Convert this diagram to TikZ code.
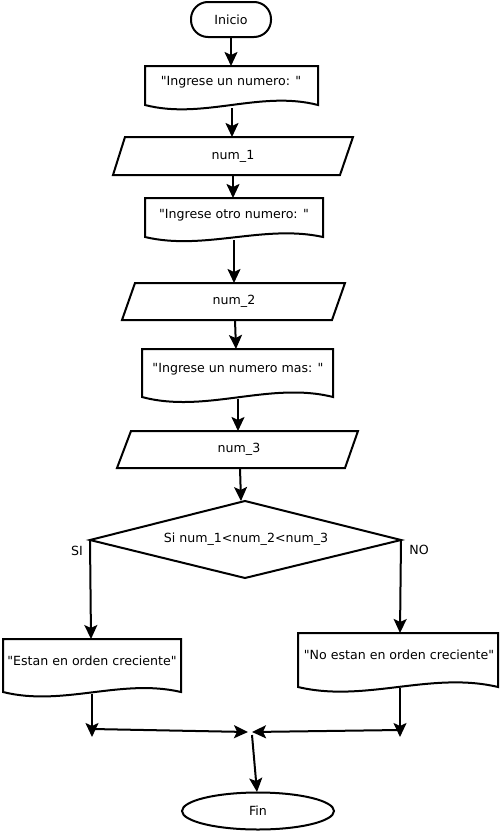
\documentclass[tikz,border=0pt]{standalone}
\usepackage{fontspec}
\setmainfont{DejaVu Sans}[Ligatures=TeXOff]
\usetikzlibrary{arrows.meta}
\begin{document}
\begin{tikzpicture}[x=1pt,y=-1pt,
  outline/.style={line width=2pt, line join=miter},
  flow/.style={line width=2pt, -{Stealth[length=14pt,width=13pt,inset=3pt]}},
  lbl/.style={font=\fontsize{12.6}{14}\selectfont, inner sep=0pt}]
\useasboundingbox (0,0) rectangle (501,833);

% start terminal
\draw[outline, rounded corners=17pt] (191,2) rectangle (271,37);
\node[lbl] (inicio) at (231,19.5) {Inicio};
\coordinate (inicio-s) at (231,37);

% output: first prompt
\draw[outline] (145,105) -- (145,66) -- (318,66) -- (318,105)
  .. controls (260,90) and (203,120) .. (145,105) -- cycle;
\node[lbl] (doc1) at (231,82) {"Ingrese un numero: "};
\coordinate (doc1-n) at (231,66);
\coordinate (doc1-s) at (232,108);

% input num_1
\draw[outline] (125,137) -- (353,137) -- (340,175) -- (113,175) -- cycle;
\node[lbl] (in1) at (233,156) {num\_1};
\coordinate (in1-n) at (232,137);
\coordinate (in1-s) at (233,175);

% output: second prompt
\draw[outline] (145,237) -- (145,198) -- (323,198) -- (323,237)
  .. controls (264,224) and (204,251) .. (145,237) -- cycle;
\node[lbl] (doc2) at (234,215) {"Ingrese otro numero: "};
\coordinate (doc2-n) at (233,198);
\coordinate (doc2-s) at (234,240);

% input num_2
\draw[outline] (135,283) -- (345,283) -- (332,320) -- (122,320) -- cycle;
\node[lbl] (in2) at (234,301) {num\_2};
\coordinate (in2-n) at (234,283);
\coordinate (in2-s) at (235,320);

% output: third prompt
\draw[outline] (142,397) -- (142,349) -- (333,349) -- (333,397)
  .. controls (270,381) and (205,414) .. (142,397) -- cycle;
\node[lbl] (doc3) at (238,369) {"Ingrese un numero mas: "};
\coordinate (doc3-n) at (236,349);
\coordinate (doc3-s) at (238,399);

% input num_3
\draw[outline] (131,431) -- (358,431) -- (345,468) -- (117,468) -- cycle;
\node[lbl] (in3) at (239,449) {num\_3};
\coordinate (in3-n) at (238,431);
\coordinate (in3-s) at (240,468);

% decision
\draw[outline] (245,501) -- (401,540) -- (245,578) -- (90,540) -- cycle;
\node[lbl] (dec) at (246,539) {Si num\_1<num\_2<num\_3};
\coordinate (dec-n) at (241,501);
\coordinate (dec-w) at (90,540);
\coordinate (dec-e) at (401,540);
\node[lbl] (si) at (77,551) {SI};
\node[lbl] (no) at (419,550) {NO};

% output: ascending
\draw[outline] (3,692) -- (3,639) -- (181,639) -- (181,692)
  .. controls (121,678) and (63,707) .. (3,692) -- cycle;
\node[lbl] (docsi) at (92,661) {"Estan en orden creciente"};
\coordinate (docsi-n) at (91,639);
\coordinate (docsi-s) at (92,694);

% output: not ascending
\draw[outline] (298,687) -- (298,633) -- (498,633) -- (498,687)
  .. controls (431,671) and (365,703) .. (298,687) -- cycle;
\node[lbl] (docno) at (399,655) {"No estan en orden creciente"};
\coordinate (docno-n) at (400,633);
\coordinate (docno-s) at (400,688);

% joins
\coordinate (jl) at (92,737);
\coordinate (jr) at (400,737);
\coordinate (jlh) at (92,729);
\coordinate (jrh) at (400,730);
\coordinate (ml) at (248,732);
\coordinate (mr) at (252,732);
\coordinate (m) at (252,735);

% end terminal
\draw[outline] (258,811) ellipse [x radius=76, y radius=18.5];
\node[lbl] (fin) at (258,811) {Fin};
\coordinate (fin-n) at (257,792);

% connectors
\draw[flow] (inicio-s) -- (doc1-n);
\draw[flow] (doc1-s) -- (in1-n);
\draw[flow] (in1-s) -- (doc2-n);
\draw[flow] (doc2-s) -- (in2-n);
\draw[flow] (in2-s) -- (doc3-n);
\draw[flow] (doc3-s) -- (in3-n);
\draw[flow] (in3-s) -- (dec-n);
\draw[flow] (dec-w) -- (docsi-n);
\draw[flow] (dec-e) -- (docno-n);
\draw[flow] (docsi-s) -- (jl);
\draw[flow] (docno-s) -- (jr);
\draw[flow] (jlh) -- (ml);
\draw[flow] (jrh) -- (mr);
\draw[flow] (m) -- (fin-n);
\end{tikzpicture}
\end{document}
